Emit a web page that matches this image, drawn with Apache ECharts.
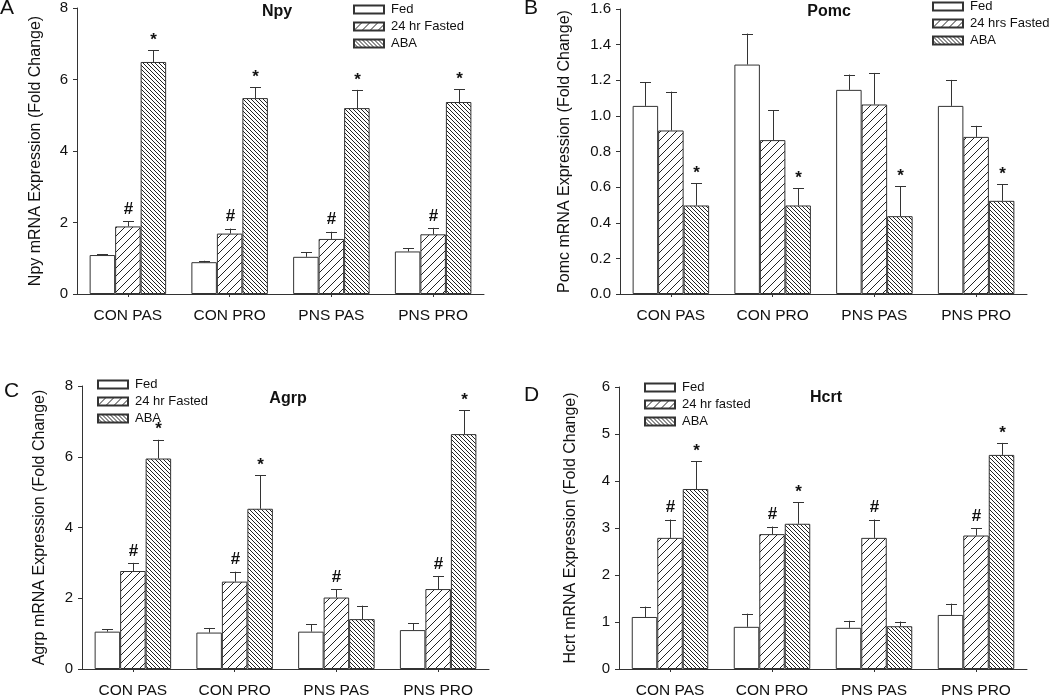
<!DOCTYPE html>
<html>
<head>
<meta charset="utf-8">
<script src="https://cdn.jsdelivr.net/npm/echarts@6/dist/echarts.min.js"></script>
<style>
html,body{margin:0;padding:0;background:#fff;}
#c{width:1050px;height:699px;}
</style>
</head>
<body>
<div id="c"></div>
<script>
// ---------- DATA ----------
const categories = ['CON PAS', 'CON PRO', 'PNS PAS', 'PNS PRO'];

// Panel A: Npy
const npyFed = [1.09, 0.89, 1.04, 1.19];
const npyFedSem = [0.02, 0.04, 0.13, 0.09];
const npyFasted = [1.89, 1.69, 1.54, 1.67];
const npyFastedSem = [0.15, 0.14, 0.20, 0.18];
const npyAba = [6.49, 5.48, 5.20, 5.37];
const npyAbaSem = [0.33, 0.31, 0.51, 0.36];
const npyFastedMark = ['#', '#', '#', '#'];
const npyAbaMark = ['*', '*', '*', '*'];

// Panel B: Pomc
const pomcFed = [1.056, 1.288, 1.146, 1.056];
const pomcFedSem = [0.134, 0.174, 0.086, 0.146];
const pomcFasted = [0.918, 0.864, 1.064, 0.882];
const pomcFastedSem = [0.218, 0.168, 0.177, 0.062];
const pomcAba = [0.497, 0.497, 0.437, 0.523];
const pomcAbaSem = [0.125, 0.097, 0.169, 0.094];
const pomcFastedMark = ['', '', '', ''];
const pomcAbaMark = ['*', '*', '*', '*'];

// Panel C: Agrp
const agrpFed = [1.056, 1.03, 1.056, 1.10];
const agrpFedSem = [0.064, 0.13, 0.214, 0.20];
const agrpFasted = [2.77, 2.47, 2.02, 2.26];
const agrpFastedSem = [0.23, 0.28, 0.23, 0.37];
const agrpAba = [5.95, 4.53, 1.41, 6.64];
const agrpAbaSem = [0.53, 0.94, 0.38, 0.67];
const agrpFastedMark = ['#', '#', '#', '#'];
const agrpAbaMark = ['*', '*', '', '*'];

// Panel D: Hcrt
const hcrtFed = [1.107, 0.897, 0.876, 1.15];
const hcrtFedSem = [0.22, 0.28, 0.15, 0.24];
const hcrtFasted = [2.79, 2.87, 2.79, 2.84];
const hcrtFastedSem = [0.39, 0.16, 0.39, 0.15];
const hcrtAba = [3.83, 3.09, 0.91, 4.555];
const hcrtAbaSem = [0.59, 0.46, 0.10, 0.255];
const hcrtFastedMark = ['#', '#', '#', '#'];
const hcrtAbaMark = ['*', '*', '', '*'];

// axis / text labels
const panelLetters = ['A', 'B', 'C', 'D'];
const panelTitles = ['Npy', 'Pomc', 'Agrp', 'Hcrt'];
const yNames = ['Npy mRNA Expression (Fold Change)', 'Pomc mRNA Expression (Fold Change)',
                'Agrp mRNA Expression (Fold Change)', 'Hcrt mRNA Expression (Fold Change)'];
const yMax = [8, 1.6, 8, 6];
const yStep = [2, 0.2, 2, 1];
const legendNames = [
  ['Fed', '24 hr Fasted', 'ABA'],
  ['Fed', '24 hrs Fasted', 'ABA'],
  ['Fed', '24 hr Fasted', 'ABA'],
  ['Fed', '24 hr fasted', 'ABA']
];

// ---------- LAYOUT / STYLE ----------
const FONT = '"Liberation Sans", Arial, Helvetica, sans-serif';
const INK = '#333';
const grids = [
  {left: 77, top: 8, width: 407, height: 286},
  {left: 620, top: 9, width: 407, height: 285},
  {left: 82, top: 386, width: 407, height: 285},
  {left: 619, top: 387, width: 408, height: 285}
];
const legendPos = [
  {left: 353, top: 3},
  {left: 932, top: 0},
  {left: 97, top: 378},
  {left: 644, top: 381}
];
const titlePos = [
  {x: 277, y: 4}, {x: 829, y: 4}, {x: 288, y: 391}, {x: 826, y: 390}
];
const letterPos = [
  {x: 0, y: -2}, {x: 524, y: -2}, {x: 4, y: 381}, {x: 524, y: 385}
];
const nameGaps = [33, 47, 34, 40];
const BAR_W = 25.5;

function hatch(step, dir) {
  const c = document.createElement('canvas');
  c.width = step; c.height = step;
  const g = c.getContext('2d');
  g.fillStyle = '#fff';
  g.fillRect(0, 0, step, step);
  g.strokeStyle = '#222';
  g.lineWidth = 1;
  g.beginPath();
  for (let k = -1; k <= 1; k++) {
    if (dir > 0) { g.moveTo(k * step, step); g.lineTo(k * step + step, 0); }
    else { g.moveTo(k * step, 0); g.lineTo(k * step + step, step); }
  }
  g.stroke();
  return {image: c, repeat: 'repeat'};
}
const fills = ['#ffffff', hatch(8, 1), hatch(4, -1)];

const panelData = [
  [[npyFed, npyFedSem, null], [npyFasted, npyFastedSem, npyFastedMark], [npyAba, npyAbaSem, npyAbaMark]],
  [[pomcFed, pomcFedSem, null], [pomcFasted, pomcFastedSem, pomcFastedMark], [pomcAba, pomcAbaSem, pomcAbaMark]],
  [[agrpFed, agrpFedSem, null], [agrpFasted, agrpFastedSem, agrpFastedMark], [agrpAba, agrpAbaSem, agrpAbaMark]],
  [[hcrtFed, hcrtFedSem, null], [hcrtFasted, hcrtFastedSem, hcrtFastedMark], [hcrtAba, hcrtAbaSem, hcrtAbaMark]]
];

const option = {
  animation: false,
  backgroundColor: '#fff',
  textStyle: {fontFamily: FONT, color: '#111'},
  grid: grids,
  title: [],
  legend: [],
  xAxis: [],
  yAxis: [],
  series: []
};

for (let p = 0; p < 4; p++) {
  option.title.push({
    text: panelTitles[p], left: titlePos[p].x, top: titlePos[p].y, textAlign: 'center',
    textStyle: {fontFamily: FONT, fontSize: 16, fontWeight: 'bold', color: '#111'}, padding: 0
  });
  option.title.push({
    text: panelLetters[p], left: letterPos[p].x, top: letterPos[p].y,
    textStyle: {fontFamily: FONT, fontSize: 21, fontWeight: 'normal', color: '#111'}, padding: 0
  });
  option.legend.push({
    orient: 'vertical', left: legendPos[p].left, top: legendPos[p].top, padding: 0,
    itemWidth: 30, itemHeight: 8, itemGap: 4, icon: 'rect',
    selectedMode: false,
    data: legendNames[p].map(n => ({name: n})),
    textStyle: {fontFamily: FONT, fontSize: 13, color: '#111', padding: [0, 0, 0, 2]}
  });
  option.xAxis.push({
    type: 'category', gridIndex: p, data: categories,
    axisLine: {lineStyle: {color: INK, width: 1}},
    axisTick: {show: true, alignWithLabel: true, length: 3, lineStyle: {color: INK}},
    axisLabel: {fontFamily: FONT, fontSize: 15.5, color: '#111', margin: 14},
    splitLine: {show: false}
  });
  option.yAxis.push({
    type: 'value', gridIndex: p, min: 0, max: yMax[p], interval: yStep[p],
    name: yNames[p], nameLocation: 'middle', nameGap: nameGaps[p],
    nameTextStyle: {fontFamily: FONT, fontSize: 16, color: '#111'},
    axisLine: {show: true, lineStyle: {color: INK, width: 1}},
    axisTick: {show: true, length: 4, lineStyle: {color: INK}},
    axisLabel: {fontFamily: FONT, fontSize: 15, color: '#111', margin: 9,
      formatter: v => (yStep[p] < 1 ? v.toFixed(1) : String(v))},
    splitLine: {show: false}
  });
  for (let s = 0; s < 3; s++) {
    const [vals, sems, marks] = panelData[p][s];
    option.series.push({
      type: 'bar', name: legendNames[p][s], xAxisIndex: p, yAxisIndex: p,
      data: vals, barWidth: BAR_W, barGap: '0%',
      itemStyle: {color: fills[s], borderColor: INK, borderWidth: 1},
      emphasis: {disabled: true}, z: 2
    });
  }
  for (let s = 0; s < 3; s++) {
    const [vals, sems, marks] = panelData[p][s];
    const offset = (s - 1) * BAR_W;
    option.series.push({
      type: 'custom', xAxisIndex: p, yAxisIndex: p, z: 5, silent: true,
      data: vals.map((v, i) => [i, v, v + sems[i]]),
      renderItem: function (params, api) {
        const base = api.coord([api.value(0), api.value(1)]);
        const top = api.coord([api.value(0), api.value(2)]);
        const x = Math.round(base[0] + offset) + 0.5;
        const children = [
          {type: 'line', shape: {x1: x, y1: base[1], x2: x, y2: top[1]}, style: {stroke: INK, lineWidth: 1}},
          {type: 'line', shape: {x1: x - 5.5, y1: Math.round(top[1]) + 0.5, x2: x + 5.5, y2: Math.round(top[1]) + 0.5}, style: {stroke: INK, lineWidth: 1}}
        ];
        const m = marks ? marks[params.dataIndex] : '';
        if (m) {
          children.push({
            type: 'text', x: x, y: top[1] - (m === '#' ? 12 : 10),
            style: {text: m, fontFamily: FONT, fontSize: 17, fontWeight: 'bold', fill: '#111',
              align: 'center', verticalAlign: 'middle'}
          });
        }
        return {type: 'group', children: children};
      }
    });
  }
}

const chart = echarts.init(document.getElementById('c'), null, {renderer: 'canvas'});
chart.setOption(option);
</script>
</body>
</html>
